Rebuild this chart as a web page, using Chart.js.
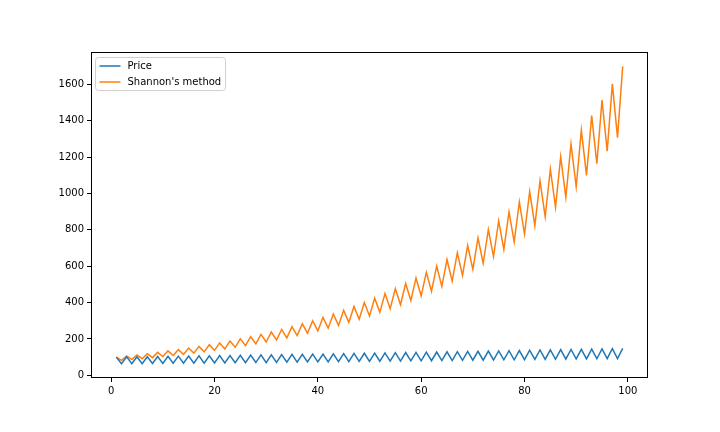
<!DOCTYPE html>
<html>
<head>
<meta charset="utf-8">
<script src="https://cdn.jsdelivr.net/npm/chart.js@4"></script>
<style>
  html, body { margin: 0; padding: 0; background: #fff; }
  #wrap { width: 720px; height: 432px; position: relative; }
</style>
</head>
<body>
<div id="wrap"><canvas id="c" width="720" height="432"></canvas></div>
<script>
// x positions (days)
const days = [];
for (let i = 1; i <= 99; i++) days.push(i);

const seriesNames = ["Price", "Shannon's method"];

const price = [
  100, 63, 101, 64, 102, 64, 102, 65, 103, 65,
  104, 66, 105, 66, 106, 67, 107, 67, 107, 68,
  108, 68, 109, 69, 110, 69, 111, 70, 112, 70,
  113, 71, 114, 72, 115, 72, 115, 73, 116, 73,
  117, 74, 118, 75, 119, 75, 120, 76, 121, 76,
  122, 77, 123, 78, 124, 78, 125, 79, 126, 79,
  127, 80, 128, 81, 129, 81, 130, 82, 131, 83,
  132, 83, 133, 84, 134, 85, 135, 85, 136, 86,
  138, 87, 139, 87, 140, 88, 141, 89, 142, 90,
  143, 90, 144, 91, 145, 92, 147, 92, 148
];

const shannon = [
  100, 82, 106, 86, 112, 91, 119, 97, 126, 103,
  134, 109, 141, 115, 150, 122, 159, 129, 168, 137,
  178, 145, 189, 154, 200, 163, 212, 173, 225, 183,
  238, 194, 252, 206, 267, 218, 283, 231, 300, 244,
  318, 259, 337, 274, 357, 291, 378, 308, 400, 326,
  424, 346, 450, 366, 476, 388, 505, 411, 535, 436,
  566, 462, 600, 489, 636, 518, 674, 549, 714, 582,
  756, 616, 801, 653, 849, 692, 899, 733, 953, 777,
  1010, 823, 1070, 872, 1134, 924, 1201, 979, 1272, 1037,
  1348, 1099, 1428, 1164, 1513, 1233, 1603, 1307, 1699
];

const xTicks = [0, 20, 40, 60, 80, 100];
const yTicks = [0, 200, 400, 600, 800, 1000, 1200, 1400, 1600];

const colors = ['#1f77b4', '#ff7f0e'];
const FONT = 'DejaVu Sans';

const boxPlugin = {
  id: 'boxAndLegend',
  afterDraw(chart) {
    const ctx = chart.ctx;
    const a = chart.chartArea;
    ctx.save();
    // frame
    ctx.strokeStyle = '#000';
    ctx.lineWidth = 1;
    ctx.strokeRect(Math.round(a.left) + 0.5, Math.round(a.top) + 0.5,
                   Math.round(a.right - a.left) - 1, Math.round(a.bottom - a.top) - 1);
    // legend
    const lx = a.left + 4.5, ly = a.top + 5.5, lw = 130, lh = 33, r = 3;
    ctx.beginPath();
    ctx.moveTo(lx + r, ly);
    ctx.lineTo(lx + lw - r, ly);
    ctx.arcTo(lx + lw, ly, lx + lw, ly + r, r);
    ctx.lineTo(lx + lw, ly + lh - r);
    ctx.arcTo(lx + lw, ly + lh, lx + lw - r, ly + lh, r);
    ctx.lineTo(lx + r, ly + lh);
    ctx.arcTo(lx, ly + lh, lx, ly + lh - r, r);
    ctx.lineTo(lx, ly + r);
    ctx.arcTo(lx, ly, lx + r, ly, r);
    ctx.closePath();
    ctx.fillStyle = 'rgba(255,255,255,0.8)';
    ctx.fill();
    ctx.strokeStyle = '#d0d0d0';
    ctx.lineWidth = 1;
    ctx.stroke();
    ctx.font = '10px "' + FONT + '"';
    ctx.textBaseline = 'middle';
    ctx.fillStyle = '#000';
    chart.data.datasets.forEach((ds, i) => {
      const y = ly + 8.5 + i * 16;
      ctx.strokeStyle = ds.borderColor;
      ctx.lineWidth = 1.5;
      ctx.beginPath();
      ctx.moveTo(lx + 4, y);
      ctx.lineTo(lx + 25, y);
      ctx.stroke();
      ctx.fillText(ds.label, lx + 32, y + 0.5);
    });
    ctx.restore();
  }
};

new Chart(document.getElementById('c'), {
  type: 'line',
  data: {
    datasets: [
      {
        label: seriesNames[0],
        data: days.map((d, i) => ({ x: d, y: price[i] })),
        borderColor: colors[0],
        backgroundColor: colors[0],
        borderWidth: 1.5,
        pointRadius: 0,
        tension: 0,
        fill: false
      },
      {
        label: seriesNames[1],
        data: days.map((d, i) => ({ x: d, y: shannon[i] })),
        borderColor: colors[1],
        backgroundColor: colors[1],
        borderWidth: 1.5,
        pointRadius: 0,
        tension: 0,
        fill: false
      }
    ]
  },
  options: {
    responsive: false,
    animation: false,
    events: [],
    layout: { padding: { left: 0, right: 72, top: 52, bottom: 0 } },
    plugins: {
      legend: { display: false },
      tooltip: { enabled: false }
    },
    scales: {
      x: {
        type: 'linear',
        min: -3.9,
        max: 103.9,
        afterFit(s) { s.height = 54; },
        afterBuildTicks(s) { s.ticks = xTicks.map(v => ({ value: v })); },
        grid: { display: true, drawOnChartArea: false, drawTicks: true, tickLength: 4, tickColor: '#000', color: '#000' },
        border: { display: false },
        ticks: { color: '#000', font: { family: FONT, size: 10 }, padding: 3, maxRotation: 0,
                 callback: v => String(v) }
      },
      y: {
        type: 'linear',
        min: -15,
        max: 1778,
        afterFit(s) { s.width = 91; },
        afterBuildTicks(s) { s.ticks = yTicks.map(v => ({ value: v })); },
        grid: { display: true, drawOnChartArea: false, drawTicks: true, tickLength: 4, tickColor: '#000', color: '#000' },
        border: { display: false },
        ticks: { color: '#000', font: { family: FONT, size: 10 }, padding: 3,
                 callback: v => String(v) }
      }
    }
  },
  plugins: [boxPlugin]
});
</script>
</body>
</html>
